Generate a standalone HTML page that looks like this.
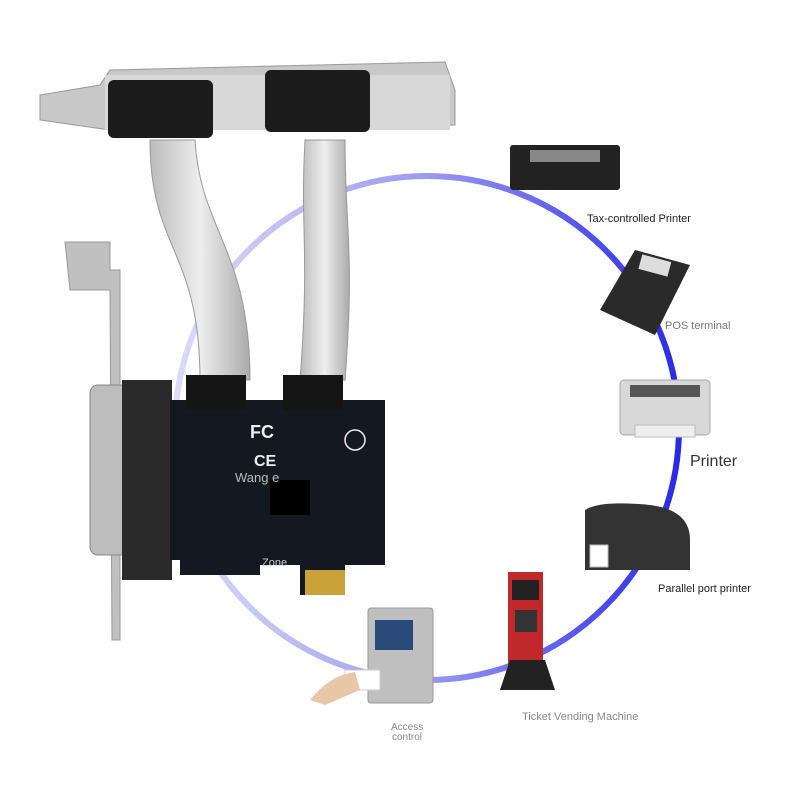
<!DOCTYPE html>
<html><head><meta charset="utf-8"><style>
body{margin:0;background:#fff;}
svg{display:block}
text{font-family:"Liberation Sans",sans-serif;}
</style></head><body>
<svg width="797" height="797" viewBox="0 0 797 797">
<defs>
<linearGradient id="cg" x1="0" y1="0" x2="1" y2="0">
<stop offset="0" stop-color="#dcdcf6"/><stop offset="0.5" stop-color="#9a9af0"/><stop offset="1" stop-color="#2a2ae6"/>
</linearGradient>
<linearGradient id="cab" x1="0" y1="0" x2="1" y2="0">
<stop offset="0" stop-color="#bbb"/><stop offset="0.5" stop-color="#eee"/><stop offset="1" stop-color="#aaa"/>
</linearGradient>
</defs>
<rect width="797" height="797" fill="#fff"/>
<circle cx="427" cy="428" r="252" fill="none" stroke="url(#cg)" stroke-width="6"/>
<!-- top bracket -->
<polygon points="40,95 100,85 110,70 445,62 455,90 455,125 110,130 40,120" fill="#c8c8c8" stroke="#999"/>
<rect x="105" y="75" width="345" height="55" fill="#d8d8d8"/>
<rect x="108" y="80" width="105" height="58" rx="6" fill="#1c1c1c"/>
<rect x="265" y="70" width="105" height="62" rx="6" fill="#1c1c1c"/>
<!-- cables -->
<path d="M150,140 C150,250 200,250 200,380 L250,380 C250,250 200,230 195,140 Z" fill="url(#cab)" stroke="#999"/>
<path d="M305,140 C300,230 310,250 300,380 L345,380 C355,250 345,230 345,140 Z" fill="url(#cab)" stroke="#999"/>
<!-- left bracket -->
<polygon points="65,242 110,242 110,270 120,270 120,640 112,640 110,290 70,290" fill="#c0c0c0" stroke="#999"/>
<rect x="90" y="385" width="40" height="170" rx="8" fill="#bdbdbd" stroke="#888"/>
<rect x="122" y="380" width="50" height="200" fill="#2a2a2a"/>
<!-- PCB -->
<path d="M170,400 L385,400 L385,565 L345,565 L345,595 L300,595 L300,565 L260,565 L260,575 L180,575 L180,560 L170,560 Z" fill="#141820"/>
<rect x="305" y="570" width="40" height="25" fill="#c9a23a"/>
<rect x="186" y="375" width="60" height="35" fill="#151515"/>
<rect x="283" y="375" width="60" height="35" fill="#151515"/>
<rect x="270" y="480" width="40" height="35" fill="#000"/>
<text x="250" y="438" fill="#eee" font-size="18" font-weight="bold">FC</text>
<text x="254" y="466" fill="#eee" font-size="16" font-weight="bold">CE</text>
<circle cx="355" cy="440" r="10" fill="none" stroke="#eee" stroke-width="1.5"/>
<text x="235" y="482" fill="#bbb" font-size="13">Wang e</text>
<text x="262" y="566" fill="#ccc" font-size="11">Zone</text>
<!-- devices -->
<rect x="510" y="145" width="110" height="45" rx="3" fill="#222"/>
<rect x="530" y="150" width="70" height="12" fill="#888"/>
<text x="587" y="222" font-size="11" fill="#222">Tax-controlled Printer</text>
<polygon points="600,310 635,250 690,265 655,335" fill="#2a2a2a"/>
<rect x="640" y="258" width="30" height="15" fill="#ddd" transform="rotate(15 655 265)"/>
<text x="665" y="329" font-size="11" fill="#777">POS terminal</text>
<rect x="620" y="380" width="90" height="55" rx="4" fill="#d8d8d8" stroke="#aaa"/>
<rect x="630" y="385" width="70" height="12" fill="#555"/>
<rect x="635" y="425" width="60" height="12" fill="#eee" stroke="#bbb"/>
<text x="690" y="466" font-size="16" fill="#333">Printer</text>
<path d="M585,510 Q600,500 650,505 Q690,510 690,540 L690,570 L585,570 Z" fill="#333"/>
<rect x="590" y="545" width="18" height="22" fill="#fff" stroke="#bbb"/>
<text x="658" y="592" font-size="11" fill="#222">Parallel port printer</text>
<rect x="508" y="572" width="35" height="110" fill="#c0282c"/>
<rect x="512" y="580" width="27" height="20" fill="#222"/>
<rect x="515" y="610" width="22" height="22" fill="#333"/>
<polygon points="500,690 555,690 545,660 510,660" fill="#222"/>
<text x="522" y="720" font-size="11" fill="#888">Ticket Vending Machine</text>
<rect x="368" y="608" width="65" height="95" rx="3" fill="#bfbfbf" stroke="#999"/>
<rect x="375" y="620" width="38" height="30" fill="#2a4a7a"/>
<rect x="345" y="670" width="35" height="20" fill="#fff" stroke="#ccc"/>
<path d="M310,700 Q330,675 355,672 L360,690 L325,705 Z" fill="#e8c6a8"/>
<text x="391" y="730" font-size="10" fill="#888">Access</text>
<text x="392" y="740" font-size="10" fill="#888">control</text>
</svg>
</body></html>
